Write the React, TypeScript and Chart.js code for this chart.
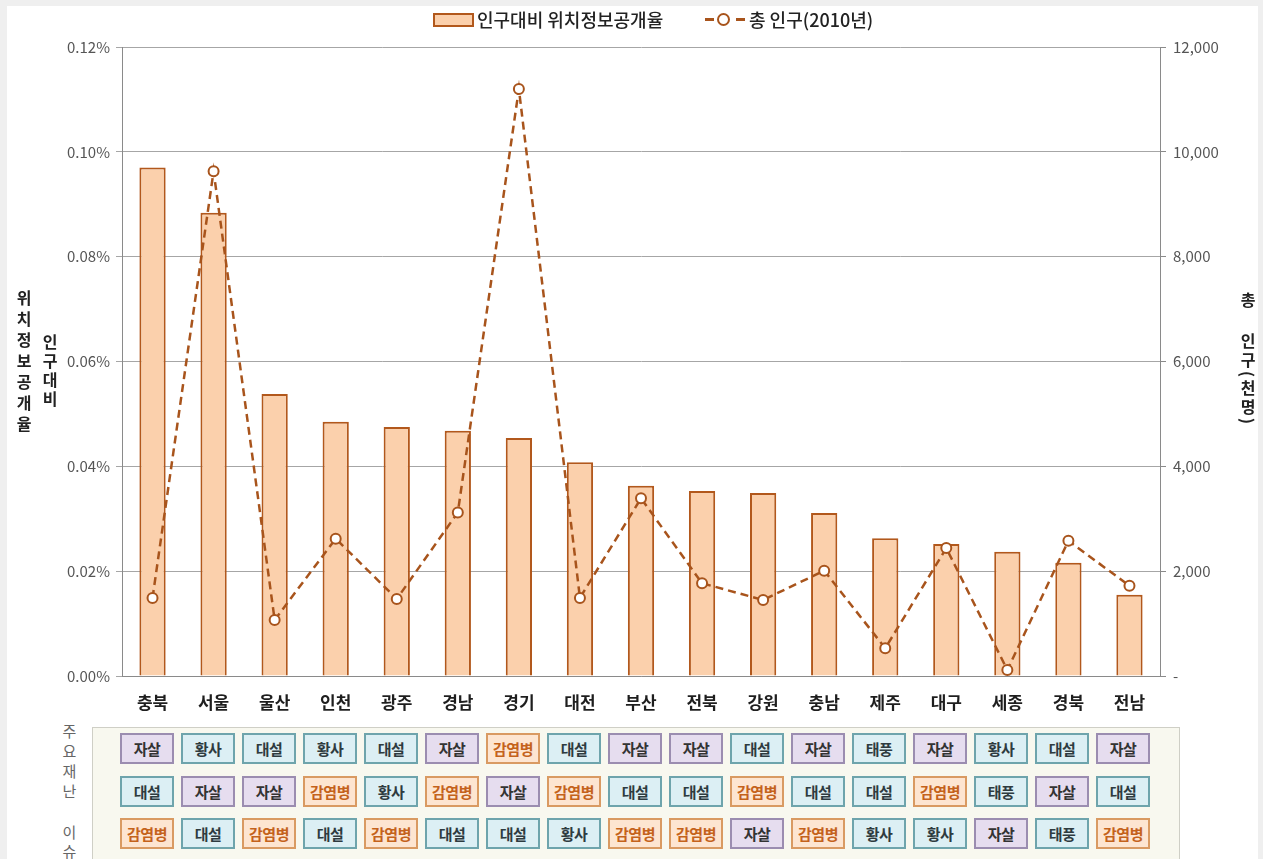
import React, { useEffect, useRef, useState } from "react";
import { Chart, registerables } from "chart.js";

Chart.register(...registerables);

const regions = ["충북", "서울", "울산", "인천", "광주", "경남", "경기", "대전", "부산", "전북", "강원", "충남", "제주", "대구", "세종", "경북", "전남"];
const disclosureRate = [0.097, 0.0884, 0.0538, 0.0485, 0.0475, 0.0468, 0.0454, 0.0408, 0.0363, 0.0353, 0.0349, 0.0311, 0.0263, 0.0252, 0.0237, 0.0216, 0.0155];
const population = [1490, 9630, 1070, 2620, 1470, 3120, 11200, 1490, 3390, 1770, 1450, 2010, 530, 2440, 115, 2580, 1720];
const leftTicks = [0, 0.02, 0.04, 0.06, 0.08, 0.1, 0.12];
const rightTicks = [0, 2000, 4000, 6000, 8000, 10000, 12000];
const issueRow1 = ["자살", "황사", "대설", "황사", "대설", "자살", "감염병", "대설", "자살", "자살", "대설", "자살", "태풍", "자살", "황사", "대설", "자살"];
const issueRow2 = ["대설", "자살", "자살", "감염병", "황사", "감염병", "자살", "감염병", "대설", "대설", "감염병", "대설", "대설", "감염병", "태풍", "자살", "대설"];
const issueRow3 = ["감염병", "대설", "감염병", "대설", "감염병", "대설", "대설", "황사", "감염병", "감염병", "자살", "감염병", "황사", "황사", "자살", "태풍", "감염병"];

const FONT = "'Noto Sans CJK KR', 'Noto Sans', sans-serif";
const BROWN = "#a8541c";

function tagStyle(t: string): React.CSSProperties {
  if (t === "자살") return { background: "#e6ddef", border: "2px solid #9b8db0", color: "#333" };
  if (t === "감염병") return { background: "#fde5d1", border: "2px solid #d99a62", color: "#c4621c" };
  return { background: "#dceff4", border: "2px solid #6ea4ac", color: "#2e3b40" };
}

export default function App() {
  const ref = useRef<HTMLCanvasElement | null>(null);
  const [centers, setCenters] = useState<number[]>([]);

  useEffect(() => {
    document.body.style.margin = "0";
    const ctx = ref.current!;
    const chart = new Chart(ctx, {
      type: "bar",
      data: {
        labels: regions,
        datasets: [
          {
            type: "line",
            label: "총 인구(2010년)",
            data: population,
            yAxisID: "y1",
            borderColor: BROWN,
            borderWidth: 2.5,
            borderDash: [8, 5],
            pointRadius: 5,
            pointBackgroundColor: "#ffffff",
            pointBorderColor: BROWN,
            pointBorderWidth: 2,
            tension: 0,
            order: 0,
          } as any,
          {
            type: "bar",
            label: "인구대비 위치정보공개율",
            data: disclosureRate,
            yAxisID: "y",
            backgroundColor: "#fbd0ac",
            borderColor: "#b2581c",
            borderWidth: 2,
            barPercentage: 0.43,
            categoryPercentage: 1,
            order: 1,
          } as any,
        ],
      },
      options: {
        responsive: false,
        animation: false,
        layout: { padding: { top: 47, left: 0, right: 0, bottom: 0 } },
        plugins: { legend: { display: false }, tooltip: { enabled: false } },
        scales: {
          x: {
            grid: { display: false },
            border: { display: true, color: "#8a8a8a", width: 1 },
            ticks: { font: { family: FONT, size: 17, weight: "bold" }, color: "#1e1e1e", padding: 8 },
            afterFit: (s: any) => { s.height = 44; },
          },
          y: {
            position: "left",
            min: 0,
            max: 0.12,
            afterBuildTicks: (s: any) => { s.ticks = leftTicks.map((v) => ({ value: v })); },
            grid: { color: "#a6a6a6", lineWidth: 1, tickLength: 6, drawTicks: true },
            border: { display: true, color: "#8a8a8a" },
            ticks: {
              font: { family: FONT, size: 15 },
              color: "#555",
              padding: 6,
              callback: (v: any) => Number(v).toFixed(2) + "%",
            },
            afterFit: (s: any) => { s.width = 122; },
          },
          y1: {
            position: "right",
            min: 0,
            max: 12000,
            afterBuildTicks: (s: any) => { s.ticks = rightTicks.map((v) => ({ value: v })); },
            grid: { drawOnChartArea: false, tickLength: 6, color: "#8a8a8a" },
            border: { display: true, color: "#8a8a8a" },
            ticks: {
              font: { family: FONT, size: 15 },
              color: "#555",
              padding: 7,
              callback: (v: any) => (Number(v) === 0 ? "-" : Number(v).toLocaleString("en-US")),
            },
            afterFit: (s: any) => { s.width = 103; },
          },
        },
      } as any,
    });
    const xs = chart.scales.x;
    setCenters(regions.map((_, i) => xs.getPixelForValue(i)));
    return () => chart.destroy();
  }, []);

  const rows = [issueRow1, issueRow2, issueRow3];
  const rowTops = [733, 776, 818];

  const vert = (text: string, left: number, top: number, extra: React.CSSProperties = {}): React.ReactNode => (
    <div
      style={{
        position: "absolute",
        left,
        top,
        writingMode: "vertical-rl",
        textOrientation: "mixed",
        fontFamily: FONT,
        whiteSpace: "nowrap",
        ...extra,
      }}
    >
      {text}
    </div>
  );

  return (
    <div style={{ position: "fixed", left: 0, top: 0, width: 1263, height: 859, background: "#efefef", overflow: "hidden", fontFamily: FONT }}>
      <div style={{ position: "absolute", left: 7, top: 6, width: 1251, height: 853, background: "#ffffff" }} />
      <canvas ref={ref} width={1263} height={720} style={{ position: "absolute", left: 0, top: 0 }} />

      {/* legend */}
      <div style={{ position: "absolute", left: 433, top: 13, width: 37, height: 10, background: "#fbd0ac", border: "2px solid #b2581c" }} />
      <div style={{ position: "absolute", left: 477, top: 5, fontSize: 18, fontWeight: 500, color: "#222", lineHeight: "28px" }}>인구대비 위치정보공개율</div>
      <div style={{ position: "absolute", left: 705, top: 18, width: 9, height: 0, borderTop: `3px solid ${BROWN}` }} />
      <div style={{ position: "absolute", left: 736, top: 18, width: 9, height: 0, borderTop: `3px solid ${BROWN}` }} />
      <div style={{ position: "absolute", left: 717, top: 13, width: 9, height: 9, borderRadius: "50%", border: `2px solid ${BROWN}`, background: "#fff" }} />
      <div style={{ position: "absolute", left: 749, top: 5, fontSize: 18, fontWeight: 500, color: "#222", lineHeight: "28px" }}>총 인구(2010년)</div>

      {/* axis titles */}
      {vert("위치정보공개율", 12, 290, { fontSize: 16, fontWeight: 700, color: "#222", letterSpacing: 5 })}
      {vert("인구대비", 38, 334, { fontSize: 16, fontWeight: 700, color: "#222", letterSpacing: 3 })}
      {vert("총", 1236, 292, { fontSize: 16, fontWeight: 700, color: "#222" })}
      {vert("인구(천명)", 1236, 333, { fontSize: 16, fontWeight: 700, color: "#222", letterSpacing: 3 })}

      {/* issue table */}
      {vert("주요재난", 59, 724, { fontSize: 15, color: "#666", letterSpacing: 5 })}
      {vert("이슈", 59, 825, { fontSize: 15, color: "#666", letterSpacing: 4 })}
      <div style={{ position: "absolute", left: 92, top: 727, width: 1086, height: 140, background: "#f8f8ef", border: "1px solid #cfcfc6" }} />
      {centers.length > 0 &&
        rows.map((row, r) =>
          row.map((t, i) => (
            <div
              key={r + "-" + i}
              style={{
                position: "absolute",
                left: Math.round(centers[i] - 6 - 27),
                top: rowTops[r],
                width: 50,
                height: 27,
                boxSizing: "content-box",
                display: "flex",
                alignItems: "center",
                justifyContent: "center",
                fontSize: 15,
                fontWeight: 700,
                letterSpacing: -0.5,
                ...tagStyle(t),
              }}
            >
              {t}
            </div>
          ))
        )}
    </div>
  );
}
